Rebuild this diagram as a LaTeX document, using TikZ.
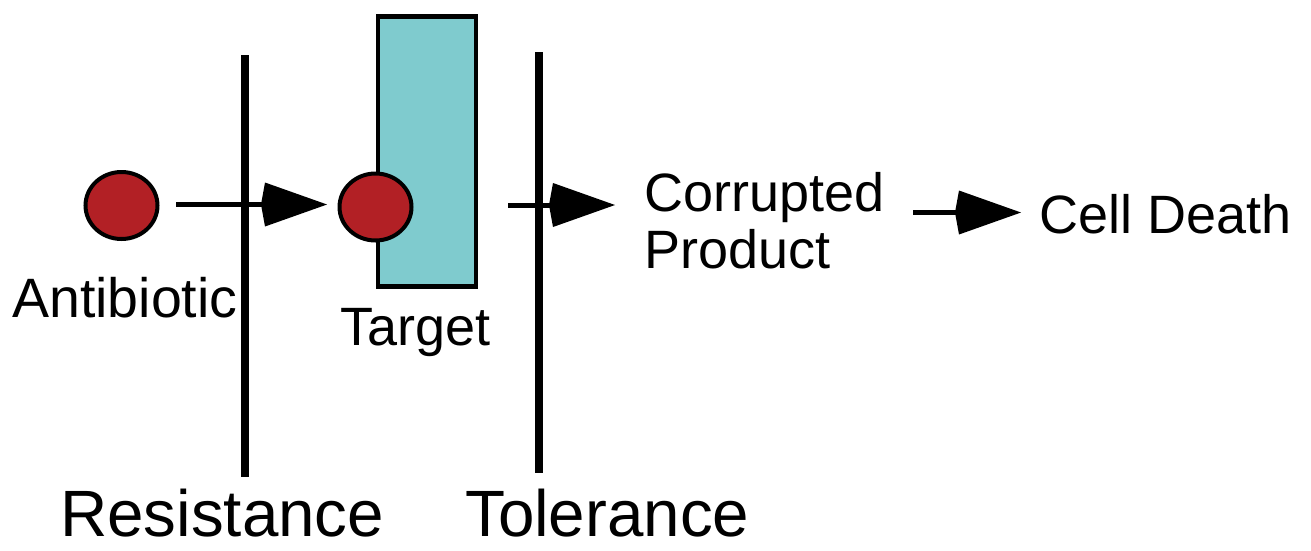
\documentclass[tikz,border=0pt]{standalone}
\usepackage{fontspec}
\setmainfont{Liberation Sans}
\usetikzlibrary{arrows.meta,shapes.geometric}
\definecolor{drugred}{HTML}{B22025}
\definecolor{targetcyan}{HTML}{7FCBCE}
\begin{document}
\begin{tikzpicture}[x=1pt,y=-1pt,
  drug/.style={ellipse,draw=black,line width=4pt,fill=drugred,minimum width=72pt,minimum height=67pt,inner sep=0pt},
  barrier/.style={line width=8.5pt},
  flow/.style={line width=5pt,-{Kite[length=66pt,width=44pt,inset=4pt,line width=0pt]}},
  lbl/.style={anchor=base west,inner sep=0pt,font=\fontsize{54}{56.5}\selectfont},
  biglbl/.style={anchor=base west,inner sep=0pt,font=\fontsize{65.5}{70}\selectfont}]
\useasboundingbox (0,0) rectangle (1311,550);
% target box
\node[draw=black,line width=4.5pt,fill=targetcyan,minimum width=98pt,minimum height=270pt,inner sep=0pt,anchor=north west] (box) at (375.5,14) {};
% barriers
\coordinate (r1) at (245,55); \coordinate (r2) at (245,477);
\coordinate (t1) at (539,52); \coordinate (t2) at (539,473);
\draw[barrier] (r1) -- (r2);
\draw[barrier] (t1) -- (t2);
% molecules
\node[drug] (ab) at (121.5,205.5) {};
\node[drug] (tg) at (375.5,207) {};
% arrows
\coordinate (a1s) at (176,204.5); \coordinate (a1e) at (327,204.5);
\coordinate (a2s) at (508,205); \coordinate (a2e) at (615,205);
\coordinate (a3s) at (913,212.5); \coordinate (a3e) at (1021,212.5);
\draw[flow] (a1s) -- (a1e);
\draw[flow] (a2s) -- (a2e);
\draw[flow] (a3s) -- (a3e);
% labels
\node[lbl,font=\fontsize{55.5}{58}\selectfont] (labab) at (12,317) {Antibiotic};
\node[lbl] (labtg) at (340,345) {Target};
\node[lbl,align=left] (labcp) at (644,268) {Corrupted\\Product};
\node[lbl] (labcd) at (1039,233) {Cell Death};
\node[biglbl] (labres) at (60,536) {Resistance};
\node[biglbl] (labtol) at (465,536) {Tolerance};
\end{tikzpicture}
\end{document}
